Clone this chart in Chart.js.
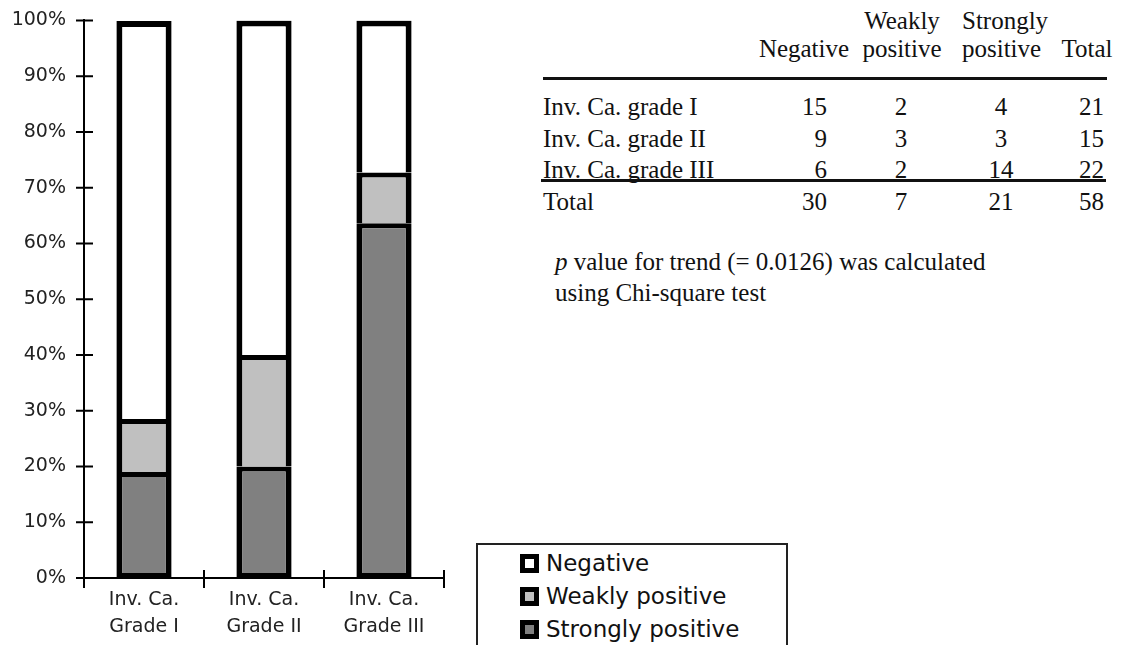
<!DOCTYPE html>
<html>
<head>
<meta charset="utf-8">
<script src="https://cdn.jsdelivr.net/npm/chart.js@4.4.0/dist/chart.umd.min.js"></script>
<style>
  body { margin: 0; width: 1125px; height: 645px; background: #fff; position: relative; overflow: hidden; }
  #myChart { position: absolute; left: 0; top: -9px; }
  .cell { position: absolute; font-family: "Liberation Serif", "Times New Roman", serif; font-size: 25px; color: #111; white-space: nowrap; line-height: 1; }
  .rule { position: absolute; height: 3px; background: #111; }
  #note { position: absolute; left: 555px; top: 246px; font-family: "Liberation Serif", serif; font-size: 25px; line-height: 31px; color: #111; }
  #legendBox { position: absolute; left: 476px; top: 543px; width: 312px; height: 120px; border: 2px solid #222; box-sizing: border-box; font-family: "DejaVu Sans", sans-serif; font-size: 23px; color: #111; }
  .legItem { position: absolute; left: 42px; height: 33px; line-height: 33px; }
  .legSwatch { display: inline-block; width: 19px; height: 19px; border: 5px solid #000; box-sizing: border-box; vertical-align: -2px; margin-right: 7px; }
</style>
</head>
<body>
<canvas id="myChart" width="460" height="654"></canvas>
<div id="tableDiv"></div>
<div id="note"><i>p</i> value for trend (= 0.0126) was calculated<br>using Chi-square test</div>
<div id="legendBox"></div>

<script>
// chart data (percent of each grade)
const categories = [["Inv. Ca.", "Grade I"], ["Inv. Ca.", "Grade II"], ["Inv. Ca.", "Grade III"]];
const strongly = [19.0, 20.0, 63.6];
const weakly = [9.5, 20.0, 9.1];
const negative = [71.4, 60.0, 27.3];
const seriesNames = ["Negative", "Weakly positive", "Strongly positive"];
const seriesColors = ["#ffffff", "#c0c0c0", "#808080"];

// table data (counts)
const rowLabels = ["Inv. Ca. grade I", "Inv. Ca. grade II", "Inv. Ca. grade III", "Total"];
const negCounts = [15, 9, 6, 30];
const weakCounts = [2, 3, 2, 7];
const strongCounts = [4, 3, 14, 21];
const totalCounts = [21, 15, 22, 58];

const tableDiv = document.querySelector("#tableDiv");
const legendBox = document.querySelector("#legendBox");

function addCell(text, left, top, align, width) {
  let cell = document.createElement("div");
  cell.className = "cell";
  cell.textContent = text;
  cell.style.top = top + "px";
  if (align === "left") {
    cell.style.left = left + "px";
  } else if (align === "right") {
    cell.style.left = (left - width) + "px";
    cell.style.width = width + "px";
    cell.style.textAlign = "right";
  } else {
    cell.style.left = (left - width / 2) + "px";
    cell.style.width = width + "px";
    cell.style.textAlign = "center";
  }
  tableDiv.appendChild(cell);
}

function addRule(left, right, top) {
  let line = document.createElement("div");
  line.className = "rule";
  line.style.left = left + "px";
  line.style.width = (right - left) + "px";
  line.style.top = top + "px";
  tableDiv.appendChild(line);
}

function drawTable() {
  // header
  addCell("Negative", 804, 36, "center", 120);
  addCell("Weakly", 902, 8, "center", 110);
  addCell("positive", 902, 36, "center", 110);
  addCell("Strongly", 962, 8, "left");
  addCell("positive", 962, 36, "left");
  addCell("Total", 1087, 36, "center", 80);
  addRule(543, 1107, 77);

  let rowTops = [94, 126, 157, 189];
  rowLabels.forEach((label, i) => {
    addCell(label, 543, rowTops[i], "left");
    addCell(String(negCounts[i]), 827, rowTops[i], "right", 60);
    addCell(String(weakCounts[i]), 901, rowTops[i], "center", 60);
    addCell(String(strongCounts[i]), 1001, rowTops[i], "center", 60);
    addCell(String(totalCounts[i]), 1104, rowTops[i], "right", 60);
  });
  addRule(541, 1106, 179);
}

function drawLegend() {
  seriesNames.forEach((name, i) => {
    let item = document.createElement("div");
    item.className = "legItem";
    item.style.top = (2 + i * 33) + "px";
    let swatch = document.createElement("span");
    swatch.className = "legSwatch";
    swatch.style.background = seriesColors[i];
    item.appendChild(swatch);
    item.appendChild(document.createTextNode(name));
    legendBox.appendChild(item);
  });
}

// short ticks that cross the axes
const crossTicks = {
  id: "crossTicks",
  afterDraw(chart) {
    const c = chart.ctx;
    const x = chart.scales.x;
    const y = chart.scales.y;
    c.save();
    c.strokeStyle = "#000";
    c.lineWidth = 2;
    c.beginPath();
    y.ticks.forEach((t, i) => {
      let py = y.getPixelForTick(i);
      c.moveTo(y.right - 8, py);
      c.lineTo(y.right + 9, py);
    });
    let n = x.ticks.length;
    let step = (x.right - x.left) / n;
    for (let i = 0; i <= n; i++) {
      let px = x.left + i * step;
      c.moveTo(px, x.top - 8);
      c.lineTo(px, x.top + 10);
    }
    c.stroke();
    c.restore();
  },
};

const bw = 5;
const ctx = document.querySelector("#myChart");
const chart = new Chart(ctx, {
  type: "bar",
  data: {
    labels: categories,
    datasets: [
      {
        label: seriesNames[2],
        data: strongly,
        backgroundColor: seriesColors[2],
        borderWidth: { top: bw, left: bw + 1, right: bw + 1, bottom: bw },
      },
      {
        label: seriesNames[1],
        data: weakly,
        backgroundColor: seriesColors[1],
        borderWidth: { top: bw, left: bw + 1, right: bw + 1, bottom: 0 },
      },
      {
        label: seriesNames[0],
        data: negative,
        backgroundColor: seriesColors[0],
        borderWidth: { top: bw + 1, left: bw + 1, right: bw + 1, bottom: 0 },
      },
    ],
  },
  options: {
    responsive: false,
    animation: false,
    datasets: {
      bar: {
        borderColor: "#000",
        borderSkipped: false,
        categoryPercentage: 1,
        barPercentage: 0.46,
      },
    },
    layout: { padding: { top: 9, right: 16, left: 0, bottom: 0 } },
    plugins: {
      legend: { display: false },
      tooltip: { enabled: false },
    },
    scales: {
      x: {
        stacked: true,
        afterFit: (scale) => { scale.height = 67; },
        grid: { display: false, drawTicks: false },
        border: { display: true, color: "#000", width: 2 },
        ticks: {
          color: "#222",
          padding: 9,
          maxRotation: 0,
          font: { family: "DejaVu Sans", size: 19, lineHeight: 1.4 },
        },
      },
      y: {
        stacked: true,
        min: 0,
        max: 100,
        afterFit: (scale) => { scale.width = 84; },
        grid: { display: false, drawTicks: false },
        border: { display: true, color: "#000", width: 2 },
        ticks: {
          stepSize: 10,
          color: "#222",
          padding: 18,
          font: { family: "DejaVu Sans", size: 19 },
          callback: (v) => v + "%",
        },
      },
    },
  },
  plugins: [crossTicks],
});

drawTable();
drawLegend();
</script>
</body>
</html>
